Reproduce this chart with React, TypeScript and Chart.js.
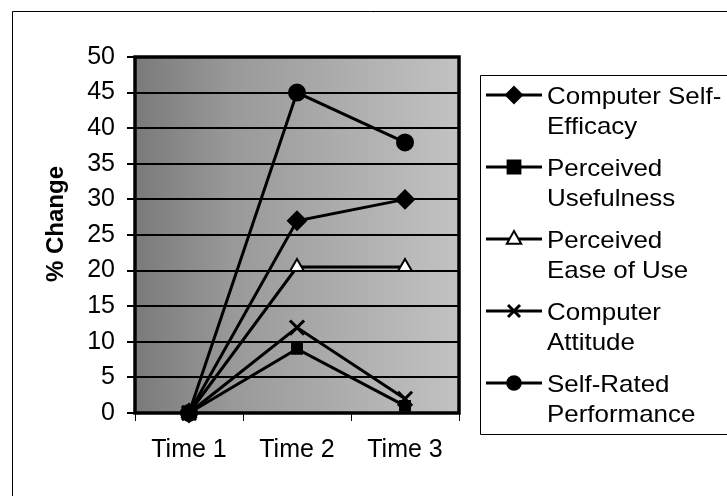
import React, { useEffect, useRef } from "react";
import { Chart, registerables } from "chart.js";

Chart.register(...registerables);

const categories = ["Time 1", "Time 2", "Time 3"];
const seriesNames = [
  "Computer Self-Efficacy",
  "Perceived Usefulness",
  "Perceived Ease of Use",
  "Computer Attitude",
  "Self-Rated Performance",
];
const legendLines = [
  ["Computer Self-", "Efficacy"],
  ["Perceived", "Usefulness"],
  ["Perceived", "Ease of Use"],
  ["Computer", "Attitude"],
  ["Self-Rated", "Performance"],
];
const computerSelfEfficacy = [0, 27, 30];
const perceivedUsefulness = [0, 9, 1];
const perceivedEaseOfUse = [0, 20.5, 20.5];
const computerAttitude = [0, 12, 2];
const selfRatedPerformance = [0, 45, 38];
const yMin = 0;
const yMax = 50;
const yStep = 5;
const yTitle = "% Change";

const FONT = "Arial, 'Liberation Sans', sans-serif";

function drawMarker(ctx: CanvasRenderingContext2D, style: string, x: number, y: number, r: number, fill: string) {
  ctx.save();
  ctx.strokeStyle = "#000";
  ctx.fillStyle = fill;
  ctx.lineWidth = 2;
  ctx.beginPath();
  if (style === "rectRot") {
    ctx.moveTo(x, y - r);
    ctx.lineTo(x + r, y);
    ctx.lineTo(x, y + r);
    ctx.lineTo(x - r, y);
    ctx.closePath();
    ctx.fill();
    ctx.stroke();
  } else if (style === "rect") {
    const s = r * 0.8;
    ctx.rect(x - s, y - s, 2 * s, 2 * s);
    ctx.fill();
    ctx.stroke();
  } else if (style === "triangle") {
    ctx.moveTo(x, y - r);
    ctx.lineTo(x + r * 0.9, y + r * 0.6);
    ctx.lineTo(x - r * 0.9, y + r * 0.6);
    ctx.closePath();
    ctx.fill();
    ctx.stroke();
  } else if (style === "crossRot") {
    const s = r * 0.75;
    ctx.lineWidth = 3;
    ctx.moveTo(x - s, y - s);
    ctx.lineTo(x + s, y + s);
    ctx.moveTo(x + s, y - s);
    ctx.lineTo(x - s, y + s);
    ctx.stroke();
  } else {
    ctx.arc(x, y, r * 0.85, 0, Math.PI * 2);
    ctx.fill();
    ctx.stroke();
  }
  ctx.restore();
}

const framePlugin = {
  id: "frame",
  beforeDraw(chart: any) {
    const { ctx, chartArea: a, width, height } = chart;
    ctx.save();
    ctx.fillStyle = "#fff";
    ctx.fillRect(0, 0, width, height);
    ctx.strokeStyle = "#000";
    ctx.lineWidth = 1;
    ctx.beginPath();
    ctx.moveTo(12.5, height + 5);
    ctx.lineTo(12.5, 11.5);
    ctx.lineTo(width + 5, 11.5);
    ctx.stroke();
    const g = ctx.createLinearGradient(a.left, 0, a.right, 0);
    g.addColorStop(0, "#7a7a7a");
    g.addColorStop(0.3, "#999999");
    g.addColorStop(1, "#c2c2c2");
    ctx.fillStyle = g;
    ctx.fillRect(a.left, a.top, a.right - a.left, a.bottom - a.top);
    ctx.restore();
  },
  afterDraw(chart: any) {
    const { ctx, chartArea: a, width } = chart;
    ctx.save();
    // plot border
    ctx.strokeStyle = "#000";
    ctx.lineWidth = 3.5;
    ctx.strokeRect(a.left, a.top, a.right - a.left, a.bottom - a.top);
    // y title
    ctx.save();
    ctx.translate(63, 224);
    ctx.rotate(-Math.PI / 2);
    ctx.fillStyle = "#000";
    ctx.font = `bold 24px ${FONT}`;
    ctx.textAlign = "center";
    ctx.textBaseline = "alphabetic";
    ctx.fillText(yTitle, 0, 0);
    ctx.restore();
    // legend box
    ctx.lineWidth = 1;
    ctx.strokeStyle = "#000";
    ctx.beginPath();
    ctx.moveTo(width + 5, 75.5);
    ctx.lineTo(480.5, 75.5);
    ctx.lineTo(480.5, 434.5);
    ctx.lineTo(width + 5, 434.5);
    ctx.stroke();
    chart.data.datasets.forEach((ds: any, i: number) => {
      const rowY = 95 + i * 72;
      ctx.strokeStyle = "#000";
      ctx.lineWidth = 3;
      ctx.beginPath();
      ctx.moveTo(486, rowY);
      ctx.lineTo(542, rowY);
      ctx.stroke();
      drawMarker(ctx, ds.pointStyle, 514, rowY, 8, ds.pointBackgroundColor);
      ctx.fillStyle = "#000";
      ctx.font = `24px ${FONT}`;
      ctx.textAlign = "left";
      ctx.textBaseline = "alphabetic";
      legendLines[i].forEach((t, j) => {
        ctx.save();
        ctx.translate(547, rowY + 9 + j * 30);
        ctx.scale(1.08, 1);
        ctx.fillText(t, 0, 0);
        ctx.restore();
      });
    });
    ctx.restore();
  },
};

const seriesValues = [
  computerSelfEfficacy,
  perceivedUsefulness,
  perceivedEaseOfUse,
  computerAttitude,
  selfRatedPerformance,
];
const pointStyles = ["rectRot", "rect", "triangle", "crossRot", "circle"];
const pointFills = ["#000", "#000", "#fff", "#000", "#000"];
const pointSizes = [9, 7, 8, 10, 8];

export default function App() {
  const ref = useRef<HTMLCanvasElement | null>(null);
  useEffect(() => {
    if (!ref.current) return;
    const chart = new Chart(ref.current, {
      type: "line",
      data: {
        labels: categories,
        datasets: seriesValues.map((vals, i) => ({
          label: seriesNames[i],
          data: vals,
          borderColor: "#000",
          borderWidth: 3,
          pointStyle: pointStyles[i] as any,
          pointBackgroundColor: pointFills[i],
          pointBorderColor: "#000",
          pointBorderWidth: i === 3 ? 3 : 2,
          pointRadius: pointSizes[i],
          tension: 0,
          clip: false as any,
        })),
      },
      options: {
        responsive: false,
        animation: false,
        layout: { padding: { left: 30, top: 57, right: 727 - 459, bottom: 30 } },
        plugins: { legend: { display: false }, tooltip: { enabled: false } },
        scales: {
          x: {
            offset: true,
            grid: { drawOnChartArea: false, offset: true, color: "#000", lineWidth: 1, tickLength: 8 },
            border: { display: false },
            ticks: { color: "#000", font: { family: FONT, size: 25 }, padding: 14 },
            afterFit: (s: any) => {
              s.height = 496 - 30 - 413;
            },
          },
          y: {
            min: yMin,
            max: yMax,
            grid: { color: "#000", lineWidth: 2, tickLength: 8 },
            border: { display: false },
            ticks: { stepSize: yStep, color: "#000", font: { family: FONT, size: 25 }, padding: 12 },
            afterFit: (s: any) => {
              s.width = 135 - 30;
            },
          },
        },
      },
      plugins: [framePlugin],
    });
    return () => chart.destroy();
  }, []);
  return (
    <div style={{ position: "absolute", left: 0, top: 0, width: 727, height: 496 }}>
      <canvas ref={ref} width={727} height={496} style={{ display: "block" }} />
    </div>
  );
}
